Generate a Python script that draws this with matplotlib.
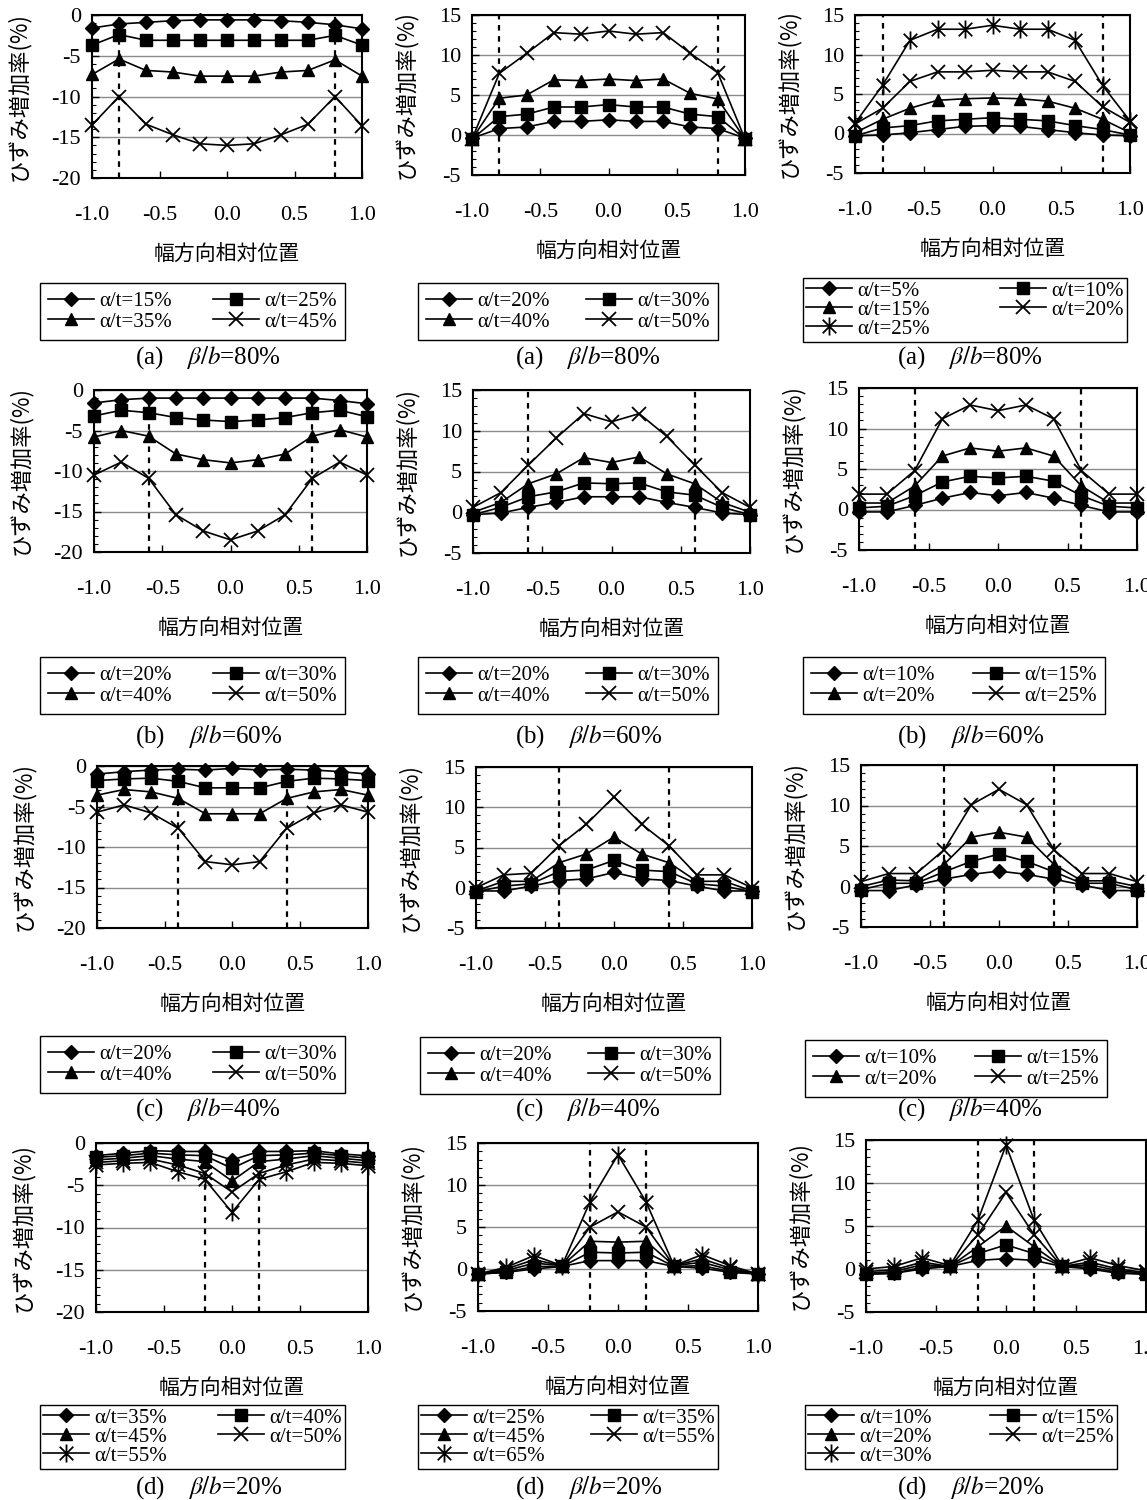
import matplotlib
matplotlib.use('Agg')
import matplotlib.pyplot as plt
from matplotlib.path import Path
from matplotlib.lines import Line2D

plt.rcParams['font.family'] = ['Liberation Serif', 'Noto Sans CJK JP', 'DejaVu Sans']
plt.rcParams['mathtext.fontset'] = 'stix'
plt.rcParams['axes.unicode_minus'] = False

# ---------------- data ----------------
x = [-1.0, -0.8, -0.6, -0.4, -0.2, 0.0, 0.2, 0.4, 0.6, 0.8, 1.0]
x_ticks = [-1.0, -0.5, 0.0, 0.5, 1.0]

# row (a) beta/b = 80%
a1_labels = ['α/t=15%', 'α/t=25%', 'α/t=35%', 'α/t=45%']
a1_15 = [-1.6, -1.1, -0.9, -0.7, -0.6, -0.6, -0.6, -0.7, -0.9, -1.2, -1.7]
a1_25 = [-3.7, -2.4, -3.1, -3.1, -3.1, -3.1, -3.1, -3.1, -3.1, -2.5, -3.7]
a1_35 = [-7.3, -5.4, -6.8, -7.0, -7.5, -7.5, -7.5, -7.0, -6.8, -5.5, -7.5]
a1_45 = [-13.5, -10.0, -13.4, -14.7, -15.8, -16.0, -15.8, -14.7, -13.4, -10.0, -13.6]

a2_labels = ['α/t=20%', 'α/t=30%', 'α/t=40%', 'α/t=50%']
a2_20 = [-0.4, 0.8, 1.0, 1.7, 1.7, 1.9, 1.7, 1.7, 1.0, 0.8, -0.4]
a2_30 = [-0.5, 2.3, 2.6, 3.5, 3.5, 3.8, 3.5, 3.5, 2.6, 2.3, -0.5]
a2_40 = [-0.5, 4.6, 5.0, 6.9, 6.8, 7.0, 6.8, 7.0, 5.2, 4.5, -0.5]
a2_50 = [-0.5, 7.7, 10.2, 12.8, 12.6, 13.0, 12.6, 12.8, 10.2, 7.8, -0.5]

a3_labels = ['α/t=5%', 'α/t=10%', 'α/t=15%', 'α/t=20%', 'α/t=25%']
a3_5 = [-0.3, -0.2, 0.1, 0.5, 0.9, 1.0, 0.9, 0.5, 0.1, -0.2, -0.3]
a3_10 = [-0.3, 0.7, 1.0, 1.6, 1.8, 2.0, 1.8, 1.6, 1.0, 0.5, -0.2]
a3_15 = [0.1, 1.8, 3.2, 4.2, 4.4, 4.5, 4.4, 4.1, 3.2, 1.8, 0.1]
a3_20 = [1.2, 3.2, 6.6, 7.8, 7.8, 8.0, 7.8, 7.8, 6.6, 3.4, 1.4]
a3_25 = [1.3, 6.1, 11.8, 13.2, 13.2, 13.7, 13.2, 13.2, 11.8, 6.1, 1.6]

# row (b) beta/b = 60%
b1_labels = ['α/t=20%', 'α/t=30%', 'α/t=40%', 'α/t=50%']
b1_20 = [-1.6, -1.2, -1.0, -1.0, -1.0, -1.0, -1.0, -1.0, -1.0, -1.3, -1.7]
b1_30 = [-3.2, -2.5, -2.8, -3.4, -3.7, -3.9, -3.7, -3.4, -2.8, -2.5, -3.3]
b1_40 = [-5.8, -5.0, -5.7, -7.9, -8.6, -9.0, -8.6, -7.9, -5.7, -4.9, -5.8]
b1_50 = [-10.5, -8.9, -10.9, -15.4, -17.4, -18.5, -17.4, -15.4, -10.9, -8.9, -10.5]

b2_labels = ['α/t=20%', 'α/t=30%', 'α/t=40%', 'α/t=50%']
b2_20 = [-0.3, -0.1, 0.6, 1.2, 1.9, 1.9, 1.9, 1.2, 0.6, -0.1, -0.3]
b2_30 = [-0.3, 0.6, 1.9, 2.5, 3.6, 3.5, 3.6, 2.5, 2.1, 0.6, -0.3]
b2_40 = [0.0, 1.2, 3.5, 4.7, 6.7, 6.1, 6.8, 4.7, 3.5, 1.2, 0.0]
b2_50 = [0.6, 2.4, 5.8, 9.1, 12.1, 11.1, 12.1, 9.3, 5.8, 2.4, 0.6]

b3_labels = ['α/t=10%', 'α/t=15%', 'α/t=20%', 'α/t=25%']
b3_10 = [-0.3, -0.3, 0.5, 1.4, 2.1, 1.7, 2.1, 1.4, 0.5, -0.3, -0.3]
b3_15 = [0.2, 0.4, 1.7, 3.4, 4.1, 3.9, 4.1, 3.5, 1.7, 0.4, 0.2]
b3_20 = [0.8, 0.8, 2.9, 6.6, 7.6, 7.2, 7.6, 6.6, 2.9, 0.8, 0.8]
b3_25 = [1.9, 1.9, 4.8, 11.2, 12.9, 12.2, 12.9, 11.2, 4.8, 1.9, 1.9]

# row (c) beta/b = 40%
c1_labels = ['α/t=20%', 'α/t=30%', 'α/t=40%', 'α/t=50%']
c1_20 = [-1.0, -0.7, -0.5, -0.4, -0.5, -0.3, -0.5, -0.4, -0.5, -0.7, -1.0]
c1_30 = [-1.8, -1.6, -1.5, -1.9, -2.7, -2.7, -2.7, -1.9, -1.5, -1.6, -1.8]
c1_40 = [-3.6, -2.9, -3.2, -4.0, -5.9, -5.9, -5.9, -4.0, -3.2, -2.9, -3.6]
c1_50 = [-5.7, -4.8, -5.8, -7.7, -11.8, -12.2, -11.8, -7.7, -5.8, -4.8, -5.7]

c2_labels = ['α/t=20%', 'α/t=30%', 'α/t=40%', 'α/t=50%']
c2_20 = [-0.4, -0.4, 0.2, 0.9, 1.1, 1.9, 1.1, 0.9, 0.2, -0.4, -0.4]
c2_30 = [-0.5, 0.2, 0.5, 2.0, 2.2, 3.4, 2.2, 2.0, 0.5, 0.2, -0.5]
c2_40 = [-0.4, 0.8, 0.8, 3.1, 4.2, 6.3, 4.2, 3.1, 0.8, 0.8, -0.4]
c2_50 = [0.0, 1.6, 1.8, 5.2, 7.9, 11.3, 7.9, 5.2, 1.6, 1.6, 0.0]

c3_labels = ['α/t=10%', 'α/t=15%', 'α/t=20%', 'α/t=25%']
c3_10 = [-0.5, -0.5, 0.2, 0.9, 1.5, 1.9, 1.5, 0.9, 0.2, -0.5, -0.5]
c3_15 = [-0.4, 0.4, 0.4, 1.8, 3.1, 4.0, 3.1, 1.8, 0.4, 0.4, -0.4]
c3_20 = [0.0, 0.8, 0.7, 2.7, 6.1, 6.7, 6.1, 2.7, 0.7, 0.7, 0.0]
c3_25 = [0.6, 1.6, 1.6, 4.5, 10.1, 12.0, 10.1, 4.5, 1.6, 1.6, 0.6]

# row (d) beta/b = 20%
d1_labels = ['α/t=35%', 'α/t=40%', 'α/t=45%', 'α/t=50%', 'α/t=55%']
d1_35 = [-1.5, -1.2, -0.9, -1.0, -1.0, -2.0, -1.0, -1.0, -0.9, -1.3, -1.5]
d1_40 = [-1.7, -1.5, -1.2, -1.4, -1.5, -3.0, -1.5, -1.4, -1.2, -1.5, -1.8]
d1_45 = [-2.0, -1.8, -1.5, -1.9, -2.2, -4.5, -2.2, -1.9, -1.5, -1.8, -2.1]
d1_50 = [-2.3, -2.1, -1.9, -2.6, -3.6, -5.8, -3.6, -2.6, -1.9, -2.1, -2.4]
d1_55 = [-2.6, -2.4, -2.3, -3.4, -4.3, -8.2, -4.3, -3.4, -2.3, -2.4, -2.7]

d2_labels = ['α/t=25%', 'α/t=35%', 'α/t=45%', 'α/t=55%', 'α/t=65%']
d2_25 = [-0.6, -0.4, 0.0, 0.3, 1.0, 1.0, 1.0, 0.3, 0.1, -0.4, -0.6]
d2_35 = [-0.6, -0.4, 0.3, 0.3, 2.0, 1.9, 2.0, 0.3, 0.4, -0.3, -0.6]
d2_45 = [-0.6, -0.2, 0.7, 0.4, 3.3, 3.2, 3.3, 0.4, 0.8, -0.1, -0.6]
d2_55 = [-0.6, 0.0, 1.1, 0.4, 5.0, 6.8, 5.0, 0.4, 1.2, 0.1, -0.6]
d2_65 = [-0.6, 0.2, 1.6, 0.4, 8.0, 13.6, 8.0, 0.4, 1.7, 0.4, -0.6]

d3_labels = ['α/t=10%', 'α/t=15%', 'α/t=20%', 'α/t=25%', 'α/t=30%']
d3_10 = [-0.6, -0.5, 0.0, 0.3, 1.0, 1.2, 1.0, 0.3, 0.0, -0.5, -0.6]
d3_15 = [-0.6, -0.5, 0.2, 0.3, 1.8, 2.8, 1.8, 0.3, 0.2, -0.4, -0.6]
d3_20 = [-0.5, -0.3, 0.5, 0.3, 2.6, 5.0, 2.6, 0.3, 0.5, -0.2, -0.5]
d3_25 = [-0.3, -0.1, 0.8, 0.3, 4.0, 8.9, 4.0, 0.3, 0.8, 0.0, -0.4]
d3_30 = [0.0, 0.3, 1.3, 0.4, 5.7, 14.4, 5.7, 0.4, 1.3, 0.4, -0.2]

row_letters = ['(a)', '(b)', '(c)', '(d)']
row_ratio = ['80%', '60%', '40%', '20%']
dash_pos = [0.8, 0.6, 0.4, 0.2]
ylim_neg = (-20, 0)
ylim_pos = (-5, 15)
ylabel_text = 'ひずみ増加率(%)'
xlabel_text = '幅方向相対位置'

panels = [
    [(a1_labels, [a1_15, a1_25, a1_35, a1_45]),
     (a2_labels, [a2_20, a2_30, a2_40, a2_50]),
     (a3_labels, [a3_5, a3_10, a3_15, a3_20, a3_25])],
    [(b1_labels, [b1_20, b1_30, b1_40, b1_50]),
     (b2_labels, [b2_20, b2_30, b2_40, b2_50]),
     (b3_labels, [b3_10, b3_15, b3_20, b3_25])],
    [(c1_labels, [c1_20, c1_30, c1_40, c1_50]),
     (c2_labels, [c2_20, c2_30, c2_40, c2_50]),
     (c3_labels, [c3_10, c3_15, c3_20, c3_25])],
    [(d1_labels, [d1_35, d1_40, d1_45, d1_50, d1_55]),
     (d2_labels, [d2_25, d2_35, d2_45, d2_55, d2_65]),
     (d3_labels, [d3_10, d3_15, d3_20, d3_25, d3_30])],
]

# ---------------- layout (pixels) ----------------
W, H = 1147, 1500
axes_px = [
    [(92, 15, 362, 178), (472, 15, 745, 175), (855, 15, 1130, 173)],
    [(94, 390, 367, 552), (473, 390, 750, 553), (859, 388, 1137, 550)],
    [(97, 766, 368, 928), (476, 767, 752, 928), (861, 765, 1137, 927)],
    [(96, 1143, 368, 1312), (478, 1143, 758, 1311), (866, 1140, 1146, 1312)],
]
ylabel_offset = [74, 67, 67]
legend_px = [
    [(40, 283, 345), (418, 283, 718), (803, 278, 1127)],
    [(40, 657, 345), (418, 657, 718), (803, 657, 1105)],
    [(40, 1036, 345), (420, 1037, 720), (805, 1040, 1107)],
    [(40, 1405, 345), (418, 1405, 718), (805, 1405, 1117)],
]
caption_x = [135, 515, 897]
caption_y = [358, 737, 1110, 1488]

star = Path([(0, -1), (0, 1), (-0.75, -0.75), (0.75, 0.75), (-0.75, 0.75), (0.75, -0.75)],
            [Path.MOVETO, Path.LINETO, Path.MOVETO, Path.LINETO, Path.MOVETO, Path.LINETO])
styles = [
    dict(marker='D', markersize=7, markerfacecolor='black', markeredgecolor='black'),
    dict(marker='s', markersize=8, markerfacecolor='black', markeredgecolor='black'),
    dict(marker='^', markersize=9, markerfacecolor='black', markeredgecolor='black'),
    dict(marker='x', markersize=10, markeredgewidth=1.3, markeredgecolor='black'),
    dict(marker=star, markersize=13, markeredgewidth=1.3, markerfacecolor='none',
         markeredgecolor='black'),
]

fig = plt.figure(figsize=(W / 100, H / 100), dpi=100)


def fx(px):
    return px / W


def fy(py):
    return 1 - py / H


for r in range(4):
    for c in range(3):
        x0, y0, x1, y1 = axes_px[r][c]
        ax = fig.add_axes([fx(x0), fy(y1), (x1 - x0) / W, (y1 - y0) / H])
        labels, series = panels[r][c]
        lims = ylim_neg if c == 0 else ylim_pos
        ax.set_xlim(-1.0, 1.0)
        ax.set_ylim(*lims)
        ax.set_yticks(range(lims[0], lims[1] + 1, 5))
        ax.set_yticks(range(lims[0], lims[1] + 1, 1), minor=True)
        ax.set_xticks(x_ticks)
        ax.set_xticklabels(['%.1f' % v for v in x_ticks])
        ax.yaxis.grid(True, color='#8a8a8a', linewidth=1.0)
        ax.set_axisbelow(True)
        for s in ax.spines.values():
            s.set_linewidth(1.5)
            s.set_color('black')
        ax.tick_params(axis='both', which='major', direction='in', length=5,
                       width=1, labelsize=16, top=False, right=False)
        ax.tick_params(axis='x', pad=20)
        ax.tick_params(axis='y', pad=8)
        ax.tick_params(axis='y', which='minor', direction='in', length=3, width=0.8)
        for d in (-dash_pos[r], dash_pos[r]):
            ax.axvline(d, color='black', linewidth=1.6, linestyle=(0, (2.5, 2.5)), zorder=2)
        handles = []
        for i, ys in enumerate(series):
            ln, = ax.plot(x, ys, color='black', linewidth=1.2, label=labels[i],
                          zorder=3, clip_on=False, **styles[i])
            handles.append(ln)
        # axis labels
        fig.text(fx(x0 - ylabel_offset[c]), fy((y0 + y1) / 2), ylabel_text,
                 rotation=90, ha='center', va='center', fontsize=16,
                 family=['Noto Sans CJK JP'])
        fig.text(fx((x0 + x1) / 2), fy(y1 + 76), xlabel_text, ha='center', va='center',
                 fontsize=15, family=['Noto Sans CJK JP'])
        # legend (row-major order, padded so both columns have equal rows)
        n = len(handles)
        h_list = list(handles)
        l_list = list(labels)
        if n % 2 == 1:
            h_list.append(Line2D([], [], linestyle='none', marker='none'))
            l_list.append('')
        m = len(h_list)
        order = list(range(0, m, 2)) + list(range(1, m, 2))
        lx0, ly0, lx1 = legend_px[r][c]
        three_rows = m > 4
        leg = fig.legend([h_list[k] for k in order], [l_list[k] for k in order],
                         loc='upper left', ncol=2, mode='expand',
                         bbox_to_anchor=(fx(lx0), fy(ly0), (lx1 - lx0) / W, 0),
                         bbox_transform=fig.transFigure,
                         frameon=True, fancybox=False, edgecolor='black',
                         framealpha=1, fontsize=15, handlelength=2.2,
                         handletextpad=0.25,
                         labelspacing=-0.03 if three_rows else 0.06,
                         borderpad=0.15 if three_rows else 0.4,
                         columnspacing=0.6, borderaxespad=0)
        leg.get_frame().set_linewidth(1.0)
        # caption
        fig.text(fx(caption_x[c]), fy(caption_y[r]),
                 row_letters[r] + '    $\\beta/b$=' + row_ratio[r],
                 ha='left', va='center', fontsize=18)

fig.savefig('out.png', dpi=100)
